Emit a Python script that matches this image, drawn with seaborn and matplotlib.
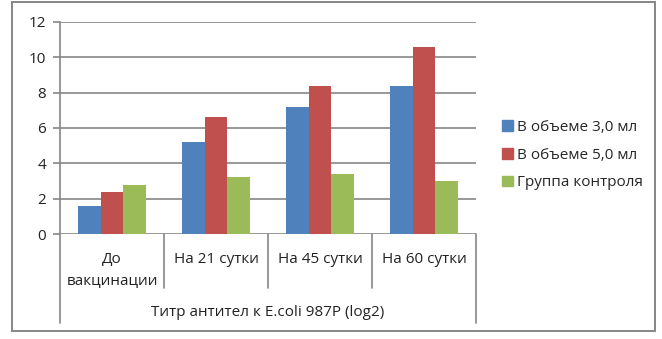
import matplotlib
matplotlib.use("Agg")
import matplotlib.pyplot as plt
import matplotlib.patches as mpatches
from matplotlib.lines import Line2D
import seaborn as sns
import pandas as pd

categories = ["До\nвакцинации", "На 21 сутки", "На 45 сутки", "На 60 сутки"]
series_names = ["В объеме 3,0 мл", "В объеме 5,0 мл", "Группа контроля"]
vol_3 = [1.6, 5.2, 7.2, 8.4]
vol_5 = [2.4, 6.6, 8.4, 10.6]
control = [2.8, 3.2, 3.4, 3.0]
group_label = "Титр антител к E.coli 987P (log2)"
y_ticks = [0, 2, 4, 6, 8, 10, 12]

colors = ["#4F81BD", "#C0504D", "#9BBB59"]
grid_col = "#868686"
text_col = "#222222"

df = pd.DataFrame({
    "cat": categories * 3,
    "series": [s for s in series_names for _ in categories],
    "value": vol_3 + vol_5 + control,
})

sns.set_theme(style="white")
plt.rcParams["font.family"] = ["Open Sans", "DejaVu Sans"]

fig = plt.figure(figsize=(6.62, 3.39), dpi=100)
W, H = 662, 339
ax_h = 212
ax = fig.add_axes([60 / W, 1 - 234 / H, 416 / W, ax_h / H])

sns.barplot(data=df, x="cat", y="value", hue="series", palette=colors,
            width=0.66, saturation=1, linewidth=0, ax=ax, legend=False, zorder=3)

ax.set_ylim(0, 12)
ax.set_xlim(-0.5, len(categories) - 0.5)
ax.set_yticks(y_ticks)
ax.set_yticklabels([str(t) for t in y_ticks], fontsize=11, color=text_col)
ax.tick_params(axis="y", length=5, width=1.2, color=grid_col, pad=5, left=True)
ax.set_xticks([])
ax.set_xlabel("")
ax.set_ylabel("")
for y in y_ticks:
    ax.axhline(y, color=grid_col, lw=1.2, zorder=1)
for s in ["top", "right", "bottom"]:
    ax.spines[s].set_visible(False)
ax.spines["left"].set_color(grid_col)
ax.spines["left"].set_linewidth(1.2)

# Two-level category axis below the plot
trans = ax.get_xaxis_transform()
px = 1.0 / ax_h  # one pixel in axes-fraction units (vertical)
for i in range(len(categories) + 1):
    x = i - 0.5
    outer = i in (0, len(categories))
    y_end = -(89 if outer else 54) * px
    ax.add_line(Line2D([x, x], [0, y_end], transform=trans, color=grid_col,
                       lw=1.2, clip_on=False))
for i, c in enumerate(categories):
    ax.text(i, -18 * px, c, transform=trans, ha="center", va="top",
            fontsize=11, color=text_col, linespacing=1.55)
ax.text((len(categories) - 1) / 2, -79 * px, group_label, transform=trans,
        ha="center", va="center", fontsize=11, color=text_col)

handles = [mpatches.Patch(color=c, label=n) for c, n in zip(colors, series_names)]
fig.legend(handles=handles, loc="center left", bbox_to_anchor=(502 / W, 1 - 155 / H),
           frameon=False, fontsize=11, handlelength=0.7, handleheight=0.7,
           handletextpad=0.3, labelspacing=0.85, borderaxespad=0, borderpad=0)

# Chart border
fig.add_artist(mpatches.Rectangle((12 / W, 1 - 331 / H), 643 / W, 329 / H,
                                  transform=fig.transFigure, fill=False,
                                  edgecolor=grid_col, lw=1.4))

fig.savefig("out.png", dpi=100)
